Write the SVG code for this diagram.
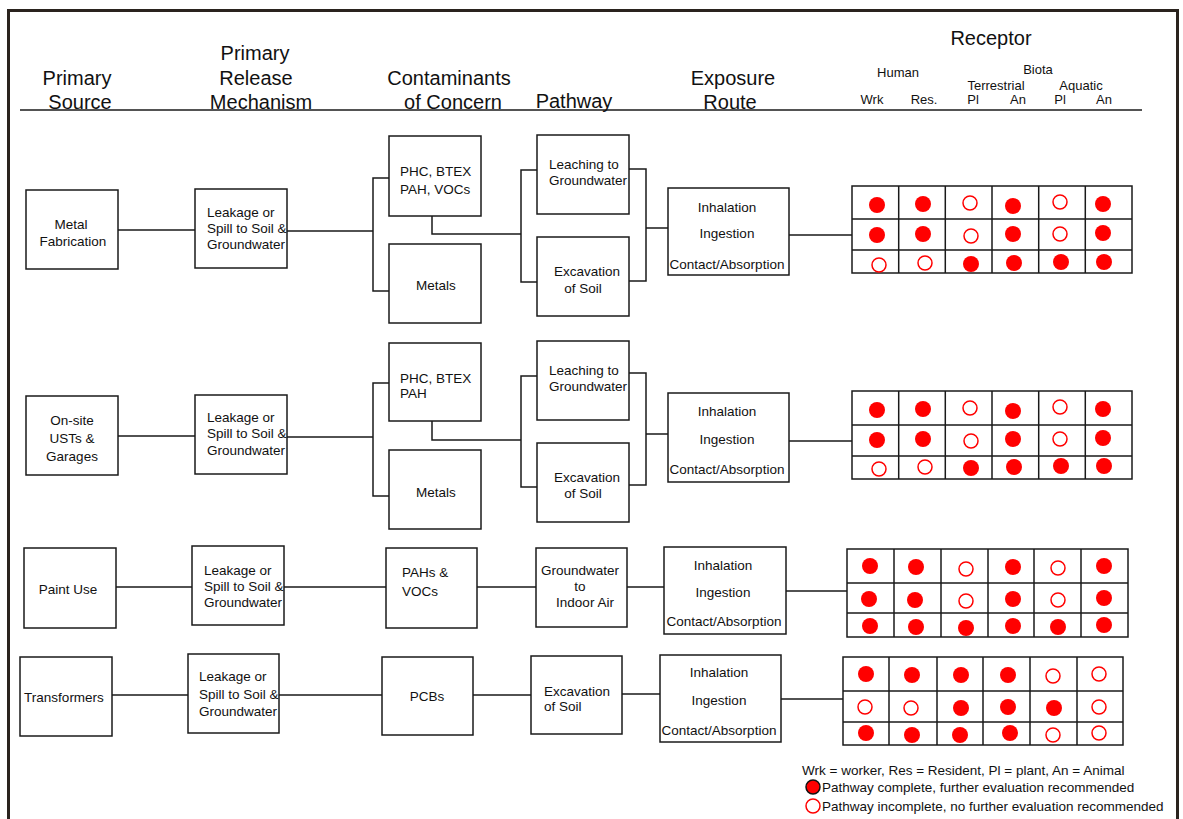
<svg xmlns="http://www.w3.org/2000/svg" width="1183" height="819" viewBox="0 0 1183 819">
<style>
.box{fill:#fff;stroke:#1a1a1a;stroke-width:1.5}
.ln{fill:none;stroke:#1a1a1a;stroke-width:1.5}
.t{font-family:"Liberation Sans",Arial,sans-serif;font-size:13.5px;fill:#111}
.s{font-size:13px}
.m{text-anchor:middle}
.h{font-size:20px}
.f{fill:#f00}
.o{fill:#fff;stroke:#f00;stroke-width:1.5}
</style>
<rect width="1183" height="819" fill="#fff"/>
<path d="M8.5,822 V10.5 H1177.5 V822" fill="none" stroke="#2a231e" stroke-width="3"/>
<g id="header">
<line x1="20" y1="110" x2="1142" y2="110" class="ln"/>
<text class="t h m" x="77" y="85">Primary</text>
<text class="t h m" x="80" y="109">Source</text>
<text class="t h m" x="255" y="60">Primary</text>
<text class="t h m" x="256" y="85">Release</text>
<text class="t h m" x="261" y="109">Mechanism</text>
<text class="t h m" x="449" y="85">Contaminants</text>
<text class="t h m" x="453" y="109">of Concern</text>
<text class="t h m" x="574" y="108">Pathway</text>
<text class="t h m" x="733" y="85">Exposure</text>
<text class="t h m" x="730" y="109">Route</text>
<text class="t h m" x="991" y="45">Receptor</text>
<text class="t s m" x="898" y="77">Human</text>
<text class="t s m" x="1038" y="74">Biota</text>
<text class="t s m" x="996" y="90">Terrestrial</text>
<text class="t s m" x="1081" y="90">Aquatic</text>
<text class="t s m" x="872" y="104">Wrk</text>
<text class="t s m" x="924" y="104">Res.</text>
<text class="t s m" x="973" y="104">Pl</text>
<text class="t s m" x="1018" y="104">An</text>
<text class="t s m" x="1060" y="104">Pl</text>
<text class="t s m" x="1104" y="104">An</text>
</g>
<g id="connectors">
<path class="ln" d="M118,230 H195 M287,231 H373 M389,178 H373 V291 H389 M432,216 V234 H521 M537,170 H521 V282 H537 M629,169 H646 V281 H629 M646,228 H668 M789,235 H852"/>
<path class="ln" d="M118,436 H195 M287,437 H373 M389,383 H373 V496 H389 M432,421 V440 H521 M537,376 H521 V487 H537 M629,373 H646 V485 H629 M646,434 H668 M789,441 H852"/>
<path class="ln" d="M116,587 H192 M284,587 H386 M477,587 H536 M627,587 H664 M786,591 H847"/>
<path class="ln" d="M112,695 H188 M279,695 H382 M473,695 H531 M622,694 H660 M781,699 H843"/>
</g>
<g id="s1-source"><rect class="box" x="26" y="190" width="92" height="79"/><text class="t m" x="71" y="229">Metal</text><text class="t m" x="73" y="246">Fabrication</text></g>
<g id="s1-release"><rect class="box" x="195" y="189" width="92" height="79"/><text class="t" x="207" y="217">Leakage or</text><text class="t" x="207" y="233">Spill to Soil &amp;</text><text class="t" x="207" y="249">Groundwater</text></g>
<g id="s1-phc"><rect class="box" x="389" y="136" width="92" height="80"/><text class="t" x="400" y="176">PHC, BTEX</text><text class="t" x="400" y="194">PAH, VOCs</text></g>
<g id="s1-metals"><rect class="box" x="389" y="244" width="92" height="79"/><text class="t m" x="436" y="290">Metals</text></g>
<g id="s1-leach"><rect class="box" x="537" y="135" width="92" height="79"/><text class="t" x="549" y="168.5">Leaching to</text><text class="t" x="549" y="185">Groundwater</text></g>
<g id="s1-exc"><rect class="box" x="537" y="237" width="92" height="79"/><text class="t m" x="587" y="275.5">Excavation</text><text class="t m" x="583" y="293">of Soil</text></g>
<g id="s1-exp"><rect class="box" x="668" y="188" width="121" height="87"/><text class="t m" x="727" y="212">Inhalation</text><text class="t m" x="727" y="238">Ingestion</text><text class="t m" x="727" y="269">Contact/Absorption</text></g>
<g id="s1-grid">
<rect class="box" x="852" y="186" width="280" height="87"/>
<path class="ln" d="M852,219 H1132 M852,250 H1132 M898.7,186 V273 M945.3,186 V273 M992,186 V273 M1038.7,186 V273 M1085.3,186 V273"/>
<circle class="f" cx="877" cy="205" r="8"/><circle class="f" cx="923" cy="204" r="8"/><circle class="o" cx="970" cy="203" r="7"/><circle class="f" cx="1013" cy="206" r="8"/><circle class="o" cx="1060" cy="202" r="7"/><circle class="f" cx="1103" cy="204" r="8"/>
<circle class="f" cx="877" cy="235" r="8"/><circle class="f" cx="923" cy="234" r="8"/><circle class="o" cx="971" cy="236" r="7"/><circle class="f" cx="1013" cy="234" r="8"/><circle class="o" cx="1060" cy="234" r="7"/><circle class="f" cx="1103" cy="233" r="8"/>
<circle class="o" cx="879" cy="265" r="7"/><circle class="o" cx="925" cy="263" r="7"/><circle class="f" cx="971" cy="264" r="8"/><circle class="f" cx="1014" cy="263" r="8"/><circle class="f" cx="1061" cy="262" r="8"/><circle class="f" cx="1104" cy="262" r="8"/>
</g>
<g id="s2-source"><rect class="box" x="26" y="396" width="92" height="79"/><text class="t m" x="72" y="424.5">On-site</text><text class="t m" x="72" y="443">USTs &amp;</text><text class="t m" x="72" y="460.5">Garages</text></g>
<g id="s2-release"><rect class="box" x="195" y="395" width="92" height="79"/><text class="t" x="207" y="422">Leakage or</text><text class="t" x="207" y="438">Spill to Soil &amp;</text><text class="t" x="207" y="454.5">Groundwater</text></g>
<g id="s2-phc"><rect class="box" x="389" y="343" width="92" height="78"/><text class="t" x="400" y="383">PHC, BTEX</text><text class="t" x="400" y="398">PAH</text></g>
<g id="s2-metals"><rect class="box" x="389" y="450" width="92" height="79"/><text class="t m" x="436" y="497">Metals</text></g>
<g id="s2-leach"><rect class="box" x="537" y="341" width="92" height="79"/><text class="t" x="549" y="375">Leaching to</text><text class="t" x="549" y="391">Groundwater</text></g>
<g id="s2-exc"><rect class="box" x="537" y="443" width="92" height="79"/><text class="t m" x="587" y="482">Excavation</text><text class="t m" x="583" y="498">of Soil</text></g>
<g id="s2-exp"><rect class="box" x="668" y="393" width="121" height="89"/><text class="t m" x="727" y="416">Inhalation</text><text class="t m" x="727" y="443.5">Ingestion</text><text class="t m" x="727" y="473.5">Contact/Absorption</text></g>
<g id="s2-grid">
<rect class="box" x="852" y="391" width="280" height="88"/>
<path class="ln" d="M852,425 H1132 M852,456 H1132 M898.7,391 V479 M945.3,391 V479 M992,391 V479 M1038.7,391 V479 M1085.3,391 V479"/>
<circle class="f" cx="877" cy="410" r="8"/><circle class="f" cx="923" cy="409" r="8"/><circle class="o" cx="970" cy="408" r="7"/><circle class="f" cx="1013" cy="411" r="8"/><circle class="o" cx="1060" cy="407" r="7"/><circle class="f" cx="1103" cy="409" r="8"/>
<circle class="f" cx="877" cy="440" r="8"/><circle class="f" cx="923" cy="439" r="8"/><circle class="o" cx="971" cy="441" r="7"/><circle class="f" cx="1013" cy="439" r="8"/><circle class="o" cx="1060" cy="439" r="7"/><circle class="f" cx="1103" cy="438" r="8"/>
<circle class="o" cx="879" cy="469" r="7"/><circle class="o" cx="925" cy="467" r="7"/><circle class="f" cx="971" cy="468" r="8"/><circle class="f" cx="1014" cy="467" r="8"/><circle class="f" cx="1061" cy="466" r="8"/><circle class="f" cx="1104" cy="466" r="8"/>
</g>
<g id="s3-source"><rect class="box" x="24" y="548" width="92" height="80"/><text class="t m" x="68" y="594">Paint Use</text></g>
<g id="s3-release"><rect class="box" x="192" y="546" width="92" height="79"/><text class="t" x="204" y="574.5">Leakage or</text><text class="t" x="204" y="591">Spill to Soil &amp;</text><text class="t" x="204" y="607">Groundwater</text></g>
<g id="s3-pahs"><rect class="box" x="386" y="548" width="91" height="80"/><text class="t" x="402" y="577">PAHs &amp;</text><text class="t" x="402" y="595.5">VOCs</text></g>
<g id="s3-gw"><rect class="box" x="536" y="548" width="91" height="79"/><text class="t m" x="580" y="575">Groundwater</text><text class="t m" x="580" y="591">to</text><text class="t m" x="585" y="607">Indoor Air</text></g>
<g id="s3-exp"><rect class="box" x="664" y="547" width="122" height="87"/><text class="t m" x="723" y="569.5">Inhalation</text><text class="t m" x="723" y="597">Ingestion</text><text class="t m" x="724" y="626">Contact/Absorption</text></g>
<g id="s3-grid">
<rect class="box" x="847" y="549" width="281" height="88"/>
<path class="ln" d="M847,583 H1128 M847,613 H1128 M894,549 V637 M941,549 V637 M988,549 V637 M1034,549 V637 M1081,549 V637"/>
<circle class="f" cx="870" cy="566" r="8"/><circle class="f" cx="916" cy="567" r="8"/><circle class="o" cx="966" cy="569" r="7"/><circle class="f" cx="1013" cy="567" r="8"/><circle class="o" cx="1058" cy="568" r="7"/><circle class="f" cx="1104" cy="566" r="8"/>
<circle class="f" cx="869" cy="599" r="8"/><circle class="f" cx="915" cy="600" r="8"/><circle class="o" cx="966" cy="601" r="7"/><circle class="f" cx="1013" cy="599" r="8"/><circle class="o" cx="1058" cy="600" r="7"/><circle class="f" cx="1104" cy="598" r="8"/>
<circle class="f" cx="870" cy="626" r="8"/><circle class="f" cx="916" cy="627" r="8"/><circle class="f" cx="966" cy="628" r="8"/><circle class="f" cx="1013" cy="626" r="8"/><circle class="f" cx="1058" cy="627" r="8"/><circle class="f" cx="1104" cy="625" r="8"/>
</g>
<g id="s4-source"><rect class="box" x="20" y="657" width="92" height="79"/><text class="t m" x="64" y="702">Transformers</text></g>
<g id="s4-release"><rect class="box" x="188" y="654" width="91" height="79"/><text class="t" x="199" y="681">Leakage or</text><text class="t" x="199" y="699">Spill to Soil &amp;</text><text class="t" x="199" y="715.5">Groundwater</text></g>
<g id="s4-pcbs"><rect class="box" x="382" y="657" width="91" height="78"/><text class="t m" x="427" y="701">PCBs</text></g>
<g id="s4-exc"><rect class="box" x="531" y="656" width="91" height="78"/><text class="t" x="544" y="696">Excavation</text><text class="t" x="544" y="711">of Soil</text></g>
<g id="s4-exp"><rect class="box" x="660" y="655" width="121" height="87"/><text class="t m" x="719" y="677">Inhalation</text><text class="t m" x="719" y="705">Ingestion</text><text class="t m" x="719" y="734.5">Contact/Absorption</text></g>
<g id="s4-grid">
<rect class="box" x="843" y="657" width="280" height="88"/>
<path class="ln" d="M843,691 H1123 M843,722 H1123 M889,657 V745 M937,657 V745 M983,657 V745 M1030,657 V745 M1077,657 V745"/>
<circle class="f" cx="866" cy="674" r="8"/><circle class="f" cx="912" cy="675" r="8"/><circle class="f" cx="961" cy="675" r="8"/><circle class="f" cx="1008" cy="675" r="8"/><circle class="o" cx="1053" cy="676" r="7"/><circle class="o" cx="1099" cy="674" r="7"/>
<circle class="o" cx="865" cy="707" r="7"/><circle class="o" cx="911" cy="708" r="7"/><circle class="f" cx="961" cy="708" r="8"/><circle class="f" cx="1008" cy="707" r="8"/><circle class="f" cx="1054" cy="708" r="8"/><circle class="o" cx="1099" cy="707" r="7"/>
<circle class="f" cx="866" cy="733" r="8"/><circle class="f" cx="912" cy="735" r="8"/><circle class="f" cx="960" cy="735" r="8"/><circle class="f" cx="1010" cy="733" r="8"/><circle class="o" cx="1053" cy="735" r="7"/><circle class="o" cx="1099" cy="733" r="7"/>
</g>
<g id="legend">
<text class="t" x="802" y="775">Wrk = worker, Res = Resident, Pl = plant, An = Animal</text>
<circle cx="813" cy="787" r="7" fill="#f00" stroke="#111" stroke-width="1.5"/>
<text class="t" x="822" y="791.5">Pathway complete, further evaluation recommended</text>
<circle cx="813" cy="806" r="7" fill="#fff" stroke="#f00" stroke-width="1.5"/>
<text class="t" x="822" y="810.5">Pathway incomplete, no further evaluation recommended</text>
</g>
</svg>
